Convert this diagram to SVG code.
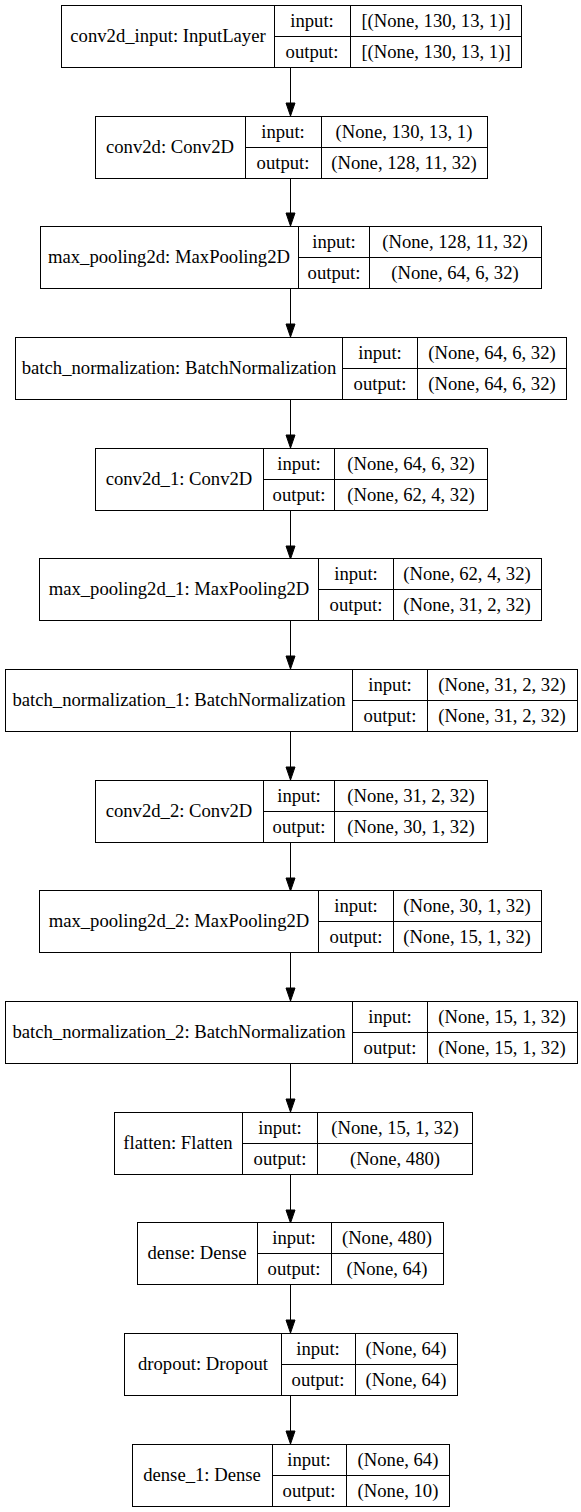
<svg xmlns="http://www.w3.org/2000/svg" width="581" height="1512" viewBox="0 0 581 1512">
<style>
.b { fill: #fff; stroke: #000; stroke-width: 1; }
.d { fill: none; stroke: #000; stroke-width: 1; }
text { font-family: "Liberation Serif", "Times New Roman", serif; font-size: 18.67px; fill: #000; text-anchor: middle; }
.edge line { stroke: #000; stroke-width: 1; }
.edge polygon { fill: #000; stroke: #000; stroke-width: 1; }
</style>
<rect x="0" y="0" width="581" height="1512" fill="#fff"/>
<g id="connectors" class="edge">
<line x1="290.5" y1="67" x2="290.5" y2="103"/><polygon points="286,103 295,103 290.5,116"/>
<line x1="290.5" y1="178" x2="290.5" y2="213"/><polygon points="286,213 295,213 290.5,226"/>
<line x1="290.5" y1="288" x2="290.5" y2="324"/><polygon points="286,324 295,324 290.5,337"/>
<line x1="290.5" y1="399" x2="290.5" y2="435"/><polygon points="286,435 295,435 290.5,448"/>
<line x1="290.5" y1="510" x2="290.5" y2="546"/><polygon points="286,546 295,546 290.5,559"/>
<line x1="290.5" y1="620" x2="290.5" y2="656"/><polygon points="286,656 295,656 290.5,669"/>
<line x1="290.5" y1="731" x2="290.5" y2="767"/><polygon points="286,767 295,767 290.5,780"/>
<line x1="290.5" y1="842" x2="290.5" y2="878"/><polygon points="286,878 295,878 290.5,891"/>
<line x1="290.5" y1="952" x2="290.5" y2="988"/><polygon points="286,988 295,988 290.5,1001"/>
<line x1="290.5" y1="1063" x2="290.5" y2="1099"/><polygon points="286,1099 295,1099 290.5,1112"/>
<line x1="290.5" y1="1174" x2="290.5" y2="1210"/><polygon points="286,1210 295,1210 290.5,1223"/>
<line x1="290.5" y1="1284" x2="290.5" y2="1320"/><polygon points="286,1320 295,1320 290.5,1333"/>
<line x1="290.5" y1="1395" x2="290.5" y2="1431"/><polygon points="286,1431 295,1431 290.5,1444"/>
</g>

<g id="conv2d_input" transform="translate(0,5)">
<rect class="b" x="61.5" y="0.5" width="460" height="62"/>
<line class="d" x1="274.5" y1="0.5" x2="274.5" y2="62.5"/><line class="d" x1="350.5" y1="0.5" x2="350.5" y2="62.5"/><line class="d" x1="274.5" y1="31.5" x2="521.5" y2="31.5"/>
<text x="168" y="37">conv2d_input: InputLayer</text>
<text x="312" y="22">input:</text><text x="312" y="53">output:</text>
<text x="436" y="22">[(None, 130, 13, 1)]</text><text x="436" y="53">[(None, 130, 13, 1)]</text>
</g>

<g id="conv2d" transform="translate(0,116)">
<rect class="b" x="95.5" y="0.5" width="392" height="62"/>
<line class="d" x1="245.5" y1="0.5" x2="245.5" y2="62.5"/><line class="d" x1="321.5" y1="0.5" x2="321.5" y2="62.5"/><line class="d" x1="245.5" y1="31.5" x2="487.5" y2="31.5"/>
<text x="170" y="37">conv2d: Conv2D</text>
<text x="283" y="22">input:</text><text x="283" y="53">output:</text>
<text x="404" y="22">(None, 130, 13, 1)</text><text x="404" y="53">(None, 128, 11, 32)</text>
</g>

<g id="max_pooling2d" transform="translate(0,226)">
<rect class="b" x="40.5" y="0.5" width="501" height="62"/>
<line class="d" x1="298.5" y1="0.5" x2="298.5" y2="62.5"/><line class="d" x1="369.5" y1="0.5" x2="369.5" y2="62.5"/><line class="d" x1="298.5" y1="31.5" x2="541.5" y2="31.5"/>
<text x="169" y="37">max_pooling2d: MaxPooling2D</text>
<text x="334" y="22">input:</text><text x="334" y="53">output:</text>
<text x="455" y="22">(None, 128, 11, 32)</text><text x="455" y="53">(None, 64, 6, 32)</text>
</g>

<g id="batch_normalization" transform="translate(0,337)">
<rect class="b" x="15.5" y="0.5" width="551" height="62"/>
<line class="d" x1="342.5" y1="0.5" x2="342.5" y2="62.5"/><line class="d" x1="417.5" y1="0.5" x2="417.5" y2="62.5"/><line class="d" x1="342.5" y1="31.5" x2="566.5" y2="31.5"/>
<text x="179" y="37">batch_normalization: BatchNormalization</text>
<text x="380" y="22">input:</text><text x="380" y="53">output:</text>
<text x="492" y="22">(None, 64, 6, 32)</text><text x="492" y="53">(None, 64, 6, 32)</text>
</g>

<g id="conv2d_1" transform="translate(0,448)">
<rect class="b" x="95.5" y="0.5" width="392" height="62"/>
<line class="d" x1="263.5" y1="0.5" x2="263.5" y2="62.5"/><line class="d" x1="334.5" y1="0.5" x2="334.5" y2="62.5"/><line class="d" x1="263.5" y1="31.5" x2="487.5" y2="31.5"/>
<text x="179" y="37">conv2d_1: Conv2D</text>
<text x="299" y="22">input:</text><text x="299" y="53">output:</text>
<text x="411" y="22">(None, 64, 6, 32)</text><text x="411" y="53">(None, 62, 4, 32)</text>
</g>

<g id="max_pooling2d_1" transform="translate(0,558)">
<rect class="b" x="39.5" y="0.5" width="502" height="62"/>
<line class="d" x1="318.5" y1="0.5" x2="318.5" y2="62.5"/><line class="d" x1="393.5" y1="0.5" x2="393.5" y2="62.5"/><line class="d" x1="318.5" y1="31.5" x2="541.5" y2="31.5"/>
<text x="179" y="37">max_pooling2d_1: MaxPooling2D</text>
<text x="356" y="22">input:</text><text x="356" y="53">output:</text>
<text x="467" y="22">(None, 62, 4, 32)</text><text x="467" y="53">(None, 31, 2, 32)</text>
</g>

<g id="batch_normalization_1" transform="translate(0,669)">
<rect class="b" x="5.5" y="0.5" width="572" height="62"/>
<line class="d" x1="352.5" y1="0.5" x2="352.5" y2="62.5"/><line class="d" x1="427.5" y1="0.5" x2="427.5" y2="62.5"/><line class="d" x1="352.5" y1="31.5" x2="577.5" y2="31.5"/>
<text x="179" y="37">batch_normalization_1: BatchNormalization</text>
<text x="390" y="22">input:</text><text x="390" y="53">output:</text>
<text x="502" y="22">(None, 31, 2, 32)</text><text x="502" y="53">(None, 31, 2, 32)</text>
</g>

<g id="conv2d_2" transform="translate(0,780)">
<rect class="b" x="95.5" y="0.5" width="392" height="62"/>
<line class="d" x1="263.5" y1="0.5" x2="263.5" y2="62.5"/><line class="d" x1="334.5" y1="0.5" x2="334.5" y2="62.5"/><line class="d" x1="263.5" y1="31.5" x2="487.5" y2="31.5"/>
<text x="179" y="37">conv2d_2: Conv2D</text>
<text x="299" y="22">input:</text><text x="299" y="53">output:</text>
<text x="411" y="22">(None, 31, 2, 32)</text><text x="411" y="53">(None, 30, 1, 32)</text>
</g>

<g id="max_pooling2d_2" transform="translate(0,890)">
<rect class="b" x="39.5" y="0.5" width="502" height="62"/>
<line class="d" x1="318.5" y1="0.5" x2="318.5" y2="62.5"/><line class="d" x1="393.5" y1="0.5" x2="393.5" y2="62.5"/><line class="d" x1="318.5" y1="31.5" x2="541.5" y2="31.5"/>
<text x="179" y="37">max_pooling2d_2: MaxPooling2D</text>
<text x="356" y="22">input:</text><text x="356" y="53">output:</text>
<text x="467" y="22">(None, 30, 1, 32)</text><text x="467" y="53">(None, 15, 1, 32)</text>
</g>

<g id="batch_normalization_2" transform="translate(0,1001)">
<rect class="b" x="5.5" y="0.5" width="572" height="62"/>
<line class="d" x1="352.5" y1="0.5" x2="352.5" y2="62.5"/><line class="d" x1="427.5" y1="0.5" x2="427.5" y2="62.5"/><line class="d" x1="352.5" y1="31.5" x2="577.5" y2="31.5"/>
<text x="179" y="37">batch_normalization_2: BatchNormalization</text>
<text x="390" y="22">input:</text><text x="390" y="53">output:</text>
<text x="502" y="22">(None, 15, 1, 32)</text><text x="502" y="53">(None, 15, 1, 32)</text>
</g>

<g id="flatten" transform="translate(0,1112)">
<rect class="b" x="114.5" y="0.5" width="358" height="62"/>
<line class="d" x1="242.5" y1="0.5" x2="242.5" y2="62.5"/><line class="d" x1="317.5" y1="0.5" x2="317.5" y2="62.5"/><line class="d" x1="242.5" y1="31.5" x2="472.5" y2="31.5"/>
<text x="178" y="37">flatten: Flatten</text>
<text x="280" y="22">input:</text><text x="280" y="53">output:</text>
<text x="395" y="22">(None, 15, 1, 32)</text><text x="395" y="53">(None, 480)</text>
</g>

<g id="dense" transform="translate(0,1222)">
<rect class="b" x="137.5" y="0.5" width="306" height="62"/>
<line class="d" x1="257.5" y1="0.5" x2="257.5" y2="62.5"/><line class="d" x1="331.5" y1="0.5" x2="331.5" y2="62.5"/><line class="d" x1="257.5" y1="31.5" x2="443.5" y2="31.5"/>
<text x="197" y="37">dense: Dense</text>
<text x="294" y="22">input:</text><text x="294" y="53">output:</text>
<text x="387" y="22">(None, 480)</text><text x="387" y="53">(None, 64)</text>
</g>

<g id="dropout" transform="translate(0,1333)">
<rect class="b" x="124.5" y="0.5" width="333" height="62"/>
<line class="d" x1="281.5" y1="0.5" x2="281.5" y2="62.5"/><line class="d" x1="355.5" y1="0.5" x2="355.5" y2="62.5"/><line class="d" x1="281.5" y1="31.5" x2="457.5" y2="31.5"/>
<text x="203" y="37">dropout: Dropout</text>
<text x="318" y="22">input:</text><text x="318" y="53">output:</text>
<text x="406" y="22">(None, 64)</text><text x="406" y="53">(None, 64)</text>
</g>

<g id="dense_1" transform="translate(0,1444)">
<rect class="b" x="132.5" y="0.5" width="317" height="62"/>
<line class="d" x1="272.5" y1="0.5" x2="272.5" y2="62.5"/><line class="d" x1="346.5" y1="0.5" x2="346.5" y2="62.5"/><line class="d" x1="272.5" y1="31.5" x2="449.5" y2="31.5"/>
<text x="202" y="37">dense_1: Dense</text>
<text x="309" y="22">input:</text><text x="309" y="53">output:</text>
<text x="398" y="22">(None, 64)</text><text x="398" y="53">(None, 10)</text>
</g>
</svg>
